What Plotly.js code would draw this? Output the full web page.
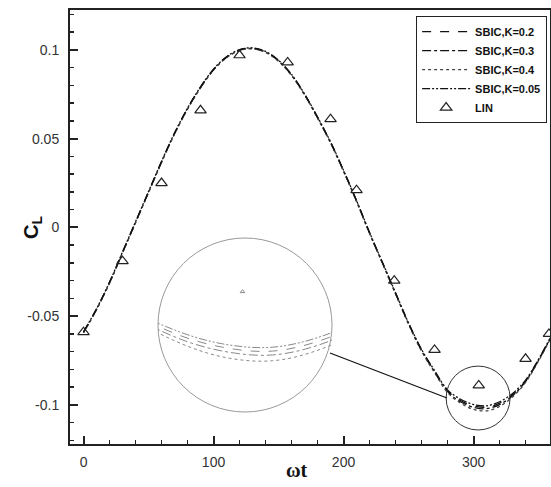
<!DOCTYPE html>
<html>
<head>
<meta charset="utf-8">
<script src="https://cdn.plot.ly/plotly-3.0.1.min.js"></script>
<style>html,body{margin:0;padding:0;background:#fff;}#chart{width:551px;height:487px;}</style>
</head>
<body>
<div id="chart"></div>
<script>
// ---- data ----
const wt = [0,10,20,30,40,50,60,70,80,90,100,110,120,130,140,150,160,170,180,190,200,210,220,230,240,250,260,270,280,290,300,310,320,330,340,350,360];
const clK02  = [-0.059,-0.046,-0.031,-0.014,0.003,0.020,0.037,0.053,0.067,0.079,0.089,0.096,0.100,0.101,0.099,0.094,0.086,0.075,0.062,0.048,0.032,0.015,-0.003,-0.020,-0.037,-0.054,-0.069,-0.081,-0.0920,-0.0975,-0.1005,-0.1013,-0.0990,-0.0942,-0.0865,-0.0745,-0.061];
const clK03  = [-0.0592,-0.0462,-0.0312,-0.0142,0.0028,0.0198,0.0368,0.0528,0.0668,0.0788,0.0888,0.0958,0.0998,0.1008,0.0988,0.0938,0.0858,0.0748,0.0618,0.0478,0.0318,0.0148,-0.0032,-0.0202,-0.0372,-0.0542,-0.0693,-0.0814,-0.0925,-0.0982,-0.1013,-0.1021,-0.0998,-0.0948,-0.0868,-0.0748,-0.0612];
const clK04  = [-0.0594,-0.0464,-0.0314,-0.0144,0.0026,0.0196,0.0366,0.0526,0.0666,0.0786,0.0886,0.0956,0.0996,0.1006,0.0986,0.0936,0.0856,0.0746,0.0616,0.0476,0.0316,0.0146,-0.0034,-0.0204,-0.0375,-0.0546,-0.0697,-0.0818,-0.0930,-0.0990,-0.1025,-0.1033,-0.1008,-0.0955,-0.0873,-0.0752,-0.0615];
const clK005 = [-0.0588,-0.0458,-0.0308,-0.0138,0.0032,0.0202,0.0372,0.0532,0.0672,0.0792,0.0892,0.0962,0.1002,0.1012,0.0992,0.0942,0.0862,0.0752,0.0622,0.0482,0.0322,0.0152,-0.0028,-0.0198,-0.0368,-0.0538,-0.0687,-0.0806,-0.0915,-0.0968,-0.0998,-0.1005,-0.0982,-0.0935,-0.0860,-0.0742,-0.0608];
const linWt = [0,30,60,90,120,157,190,210,239,270,304,340,358];
const linCl = [-0.059,-0.019,0.025,0.066,0.097,0.093,0.061,0.021,-0.030,-0.069,-0.089,-0.074,-0.060];
const seriesNames = ['SBIC,K=0.2','SBIC,K=0.3','SBIC,K=0.4','SBIC,K=0.05'];
const yTickVals = [-0.1,-0.05,0,0.05,0.1];
const yTickText = ['-0.1','-0.05','0','0.05','0.1'];
const xTitle = 'ωt';
const yTitle = 'C<sub>L</sub>';

// zoom window (small circle) and inset window
const zoomX = [278.9, 328.1];
const zoomY = [-0.1141, -0.0781];
const insetX = [287, 322];
const insetY = [-0.1139, -0.0779];

const series = [clK02, clK03, clK04, clK005];
const dashes = ['dash','dashdot','dot','8px,2px,2px,2px,2px,2px'];
const colors = ['#111','#111','#444','#111'];

const traces = [];
series.forEach((s,i)=>{
  traces.push({x: wt, y: s, type:'scatter', mode:'lines', name: seriesNames[i],
    line:{color:colors[i], width:1.3, dash:dashes[i], shape:'spline'}, xaxis:'x', yaxis:'y'});
});
traces.push({x: linWt, y: linCl, type:'scatter', mode:'markers', name:'LIN',
  marker:{symbol:'triangle-up-open', size:10, color:'#222', line:{width:1.2, color:'#222'}}, xaxis:'x', yaxis:'y', cliponaxis:false});
// inset (magnified) copies
series.forEach((s,i)=>{
  traces.push({x: wt, y: s, type:'scatter', mode:'lines', showlegend:false,
    line:{color:'#888', width:1, dash:dashes[i], shape:'spline'}, xaxis:'x2', yaxis:'y2'});
});
traces.push({x: linWt, y: linCl, type:'scatter', mode:'markers', showlegend:false,
  marker:{symbol:'triangle-up-open', size:4, color:'#888', line:{width:1, color:'#888'}}, xaxis:'x2', yaxis:'y2'});

// plot-area geometry in px (for decorative connector / titles)
const L=70, T=10, W=480, H=434;
const px2x = p => (p-L)/W;
const py2y = p => (T+H-p)/H;

const layout = {
  width:551, height:487,
  margin:{l:L, r:551-L-W, t:T, b:487-T-H},
  paper_bgcolor:'#fff', plot_bgcolor:'rgba(0,0,0,0)',
  font:{family:'Liberation Sans, Arial, sans-serif', color:'#333'},
  showlegend:true,
  legend:{x:0.994, xanchor:'right', y:0.986, yanchor:'top', bgcolor:'#fff', bordercolor:'#222', borderwidth:1,
    itemwidth:48, tracegroupgap:0,
    font:{family:'Liberation Sans, Arial, sans-serif', size:11, color:'#111', weight:'bold'}},
  xaxis:{range:[-10.4,358.8], tick0:0, dtick:100, ticks:'inside', ticklen:8, tickwidth:2, tickcolor:'#222',
    minor:{tick0:0, dtick:20, ticks:'inside', ticklen:4, tickwidth:1.5, tickcolor:'#222'},
    showline:true, linewidth:2, linecolor:'#222', mirror:true, showgrid:false, zeroline:false,
    tickfont:{size:14, color:'#333'}, ticklabelstandoff:4},
  yaxis:{range:[-0.122,0.1225], tickmode:'array', tickvals:yTickVals, ticktext:yTickText, ticks:'inside', ticklen:8, tickwidth:2, tickcolor:'#222',
    minor:{tickmode:'linear', tick0:0, dtick:0.01, ticks:'inside', ticklen:4, tickwidth:1.5, tickcolor:'#222'},
    showline:true, linewidth:2, linecolor:'#222', mirror:true, showgrid:false, zeroline:false,
    tickfont:{size:14, color:'#333'}, ticklabelstandoff:6},
  xaxis2:{domain:[px2x(158), px2x(332)], range:insetX, anchor:'y2', visible:false, showgrid:false, zeroline:false},
  yaxis2:{domain:[py2y(412), py2y(238)], range:insetY, anchor:'x2', visible:false, showgrid:false, zeroline:false},
  annotations:[
    {text:xTitle, xref:'paper', yref:'paper', x:px2x(297), y:py2y(470), xanchor:'center', yanchor:'middle', showarrow:false,
      font:{family:'Liberation Serif, serif', size:20, color:'#111', weight:'bold'}},
    {text:yTitle, xref:'paper', yref:'paper', x:px2x(33), y:py2y(228), xanchor:'center', yanchor:'middle', showarrow:false, textangle:-90,
      font:{family:'Liberation Sans, Arial, sans-serif', size:20, color:'#111', weight:'bold'}}
  ],
  shapes:[
    {type:'circle', xref:'x2 domain', yref:'y2 domain', x0:0, x1:1, y0:0, y1:1, line:{color:'#999', width:1}},
    {type:'circle', xref:'x', yref:'y', x0:zoomX[0], x1:zoomX[1], y0:zoomY[0], y1:zoomY[1], line:{color:'#333', width:1}},
    {type:'line', xref:'paper', yref:'paper', x0:px2x(330), y0:py2y(353), x1:px2x(447), y1:py2y(398), line:{color:'#111', width:1.2}}
  ]
};

Plotly.newPlot('chart', traces, layout, {displayModeBar:false, staticPlot:true});
</script>
</body>
</html>
